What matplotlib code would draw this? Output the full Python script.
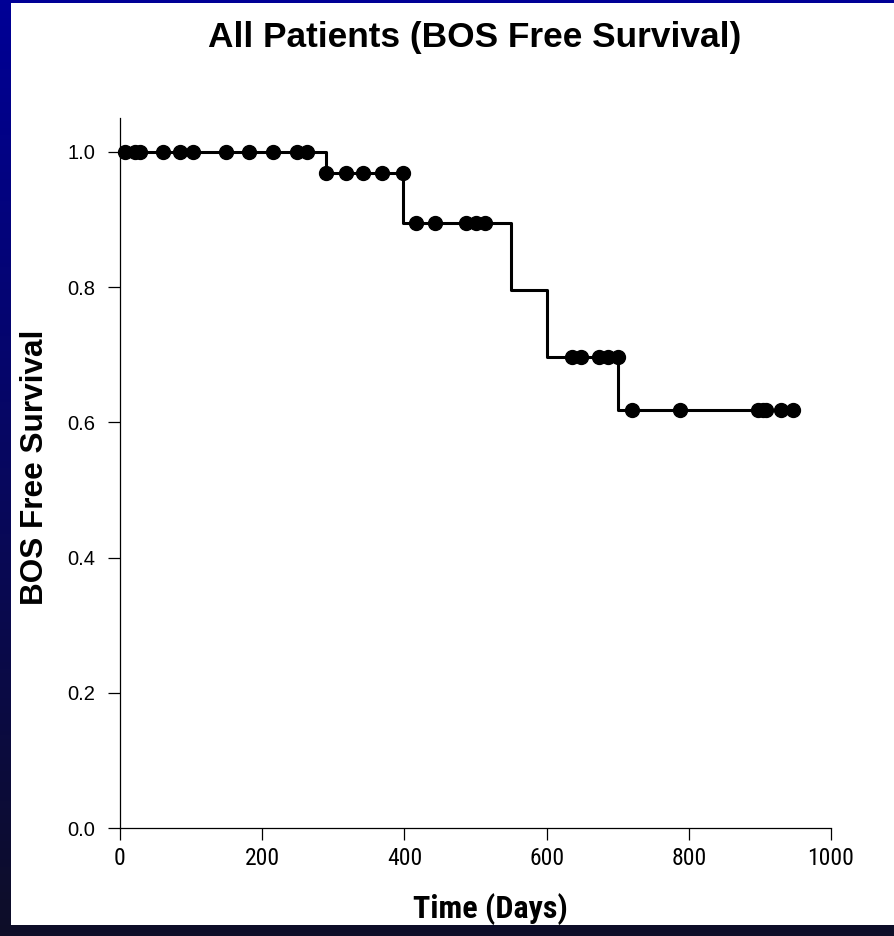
import numpy as np
import matplotlib.pyplot as plt
from matplotlib.patches import Rectangle

# Kaplan-Meier step curve (event times and survival levels)
step_days = [0, 290, 398, 550, 601, 700, 948]
step_surv = [1.0, 0.969, 0.895, 0.796, 0.696, 0.618, 0.618]

# censored observations
cens_days = [7, 21, 28, 60, 84, 103, 149, 182, 215, 249, 263,
             290, 318, 342, 369, 398,
             416, 443, 487, 501, 513,
             636, 649, 674, 686, 700,
             720, 787, 898, 904, 909, 930, 947]
cens_surv = [1.0] * 11 + [0.969] * 5 + [0.895] * 5 + [0.696] * 5 + [0.618] * 7

y_ticks = [0.0, 0.2, 0.4, 0.6, 0.8, 1.0]
x_ticks = [0, 200, 400, 600, 800, 1000]

ARIAL = ["Liberation Sans", "DejaVu Sans"]
NARROW = ["Roboto Condensed", "Liberation Sans"]

W, H = 895, 936
fig = plt.figure(figsize=(W / 100, H / 100), dpi=100)

# blue slide background with gradient, white panel on top
bg = fig.add_axes([0, 0, 1, 1])
top = np.array([0, 0, 150]) / 255
bot = np.array([14, 14, 40]) / 255
t = np.linspace(0, 1, 256)[:, None]
grad = (top[None, :] * (1 - t) + bot[None, :] * t)[:, None, :]
bg.imshow(grad, extent=[0, 1, 0, 1], aspect="auto", origin="upper")
bg.add_patch(Rectangle((11 / W, 11 / H), 1 - 11 / W, (H - 3 - 11) / H,
                       facecolor="white", edgecolor="none"))
bg.set_xlim(0, 1)
bg.set_ylim(0, 1)
bg.axis("off")

ax = fig.add_axes([120 / W, (H - 828) / H, 711 / W, 710 / H])
ax.patch.set_alpha(0)
ax.step(step_days, step_surv, where="post", color="black", lw=2.2, zorder=3)
ax.plot(cens_days, cens_surv, "o", color="black", ms=10, clip_on=False, zorder=4)

ax.set_xlim(0, 1000)
ax.set_ylim(0, 1.05)
for s in ["top", "right"]:
    ax.spines[s].set_visible(False)
ax.spines["left"].set_linewidth(0.9)
ax.spines["bottom"].set_linewidth(0.9)
ax.spines["bottom"].set_bounds(0, 1000)

ax.set_yticks(y_ticks)
ax.set_yticklabels([f"{v:.1f}" for v in y_ticks], fontsize=14.5, family=ARIAL)
ax.set_xticks(x_ticks)
ax.set_xticklabels([str(v) for v in x_ticks], fontsize=17, family=NARROW)
ax.tick_params(axis="y", direction="out", length=8.6, width=0.9, pad=9)
ax.tick_params(axis="x", direction="out", length=8.6, width=0.9, pad=5)

fig.text(475 / W, 1 - 47 / H, "All Patients (BOS Free Survival)",
         ha="center", va="baseline", fontsize=25.4, fontweight="bold",
         family=ARIAL)
fig.text(490 / W, 1 - 918 / H, "Time (Days)", ha="center", va="baseline",
         fontsize=23, fontweight="bold", family=NARROW)
fig.text(35 / W, 1 - 467 / H, "BOS Free Survival", ha="center", va="center",
         rotation=90, fontsize=22.7, fontweight="bold", family=ARIAL)

fig.savefig("out.png", dpi=100)
